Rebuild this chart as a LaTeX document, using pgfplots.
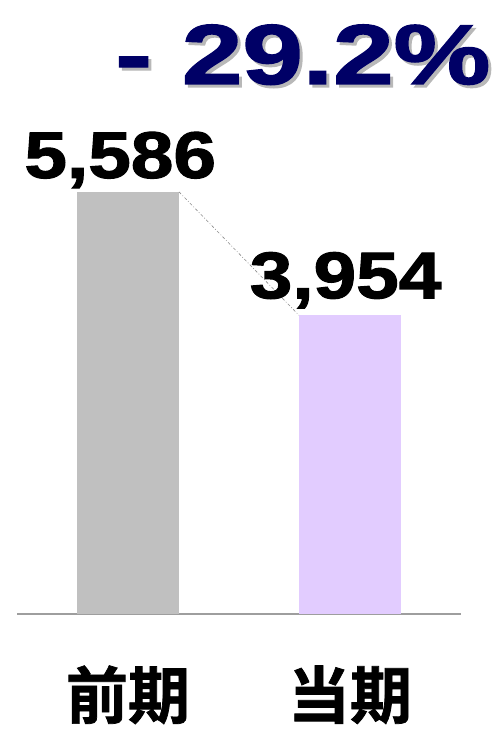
\documentclass[border=0pt]{standalone}
\usepackage{pgfplots}
\pgfplotsset{compat=1.18}
\usepackage{graphicx}
\usepackage{fontspec}
\setmainfont{Liberation Sans}
\newfontfamily\heavy{Liberation Sans Bold}[FakeBold=1.6]
\newfontfamily\cjk{Noto Sans CJK JP Bold}[FakeBold=1.2]
\definecolor{navy}{HTML}{000066}
\definecolor{bargray}{HTML}{C0C0C0}
\definecolor{barpurple}{HTML}{E2CCFF}
\begin{document}
\begin{tikzpicture}[x=1pt,y=1pt]
\useasboundingbox (0,0) rectangle (501,732);
\begin{axis}[
  at={(17pt,118pt)}, anchor=south west,
  scale only axis, width=444pt, height=528.9pt,
  xmin=-0.5, xmax=1.5, ymin=0, ymax=7000,
  axis x line=bottom, axis y line=none,
  x axis line style={draw=black!38, line width=1.2pt, -},
  xtick={0,1}, xticklabels={前期,当期},
  major tick length=0pt, ytick=\empty,
  xticklabel style={font=\cjk\fontsize{62}{62}\selectfont, yshift=-48pt},
  clip=false,
]
\addplot[ybar, bar width=0.46, fill=bargray, draw=none] coordinates {(0,5586)};
\addplot[ybar, bar width=0.46, fill=barpurple, draw=none] coordinates {(1,3954)};
\addplot[black!45, line width=0.6pt, dash pattern=on 3pt off 2pt on 0.8pt off 2pt] coordinates {(0.23,5586) (0.77,3954)};
\node[anchor=base, inner sep=0pt, font=\heavy\fontsize{66}{66}\selectfont] at (axis cs:-0.035,5586) [yshift=14pt] {\scalebox{1.16}[1]{5,586}};
\node[anchor=base, inner sep=0pt, font=\heavy\fontsize{66}{66}\selectfont] at (axis cs:0.98,3954) [yshift=17pt] {\scalebox{1.16}[1]{3,954}};
\end{axis}
\node[anchor=base, inner sep=0pt, text=black!28, font=\heavy\fontsize{85}{85}\selectfont] at (306,645) {\scalebox{1.28}[1]{- 29.2\%}};
\node[anchor=base, inner sep=0pt, text=navy, font=\heavy\fontsize{85}{85}\selectfont] at (303,648) {\scalebox{1.28}[1]{- 29.2\%}};
\end{tikzpicture}
\end{document}
